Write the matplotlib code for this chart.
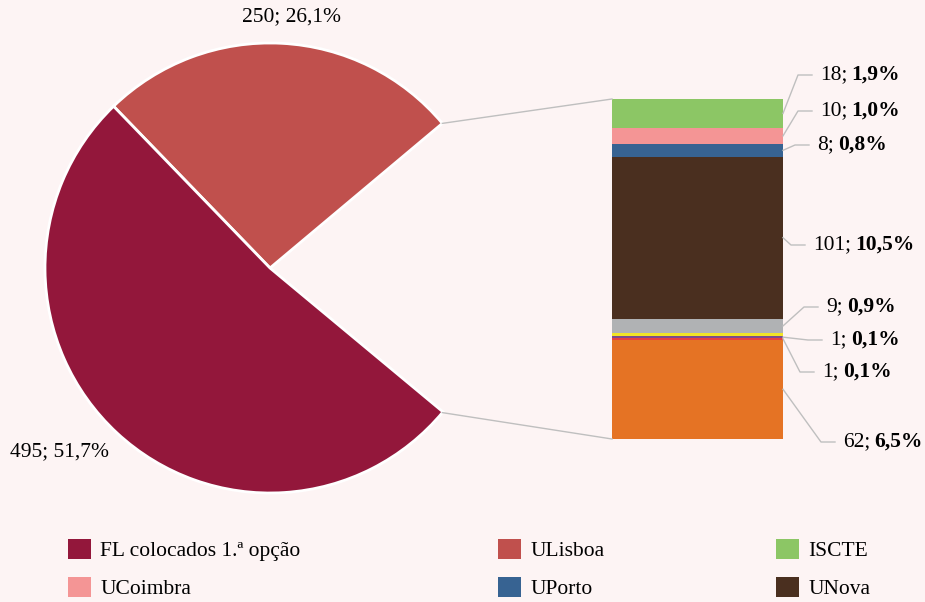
import numpy as np
import matplotlib
matplotlib.use("Agg")
import matplotlib.pyplot as plt
from matplotlib.patches import Patch
from matplotlib.legend import Legend
from matplotlib.font_manager import FontProperties

plt.rcParams['font.family'] = 'serif'
plt.rcParams['font.serif'] = ['Liberation Serif', 'DejaVu Serif']

# data
pie_labels = ['ULisboa', 'FL colocados 1.ª opção', 'Outras']
pie_values = [250, 495, 212]
pie_text = ['250; 26,1%', '495; 51,7%']

bar_names = ['UOrange', 'URed', 'UPurple', 'UYellow', 'UGrey', 'UNova', 'UPorto', 'UCoimbra', 'ISCTE']
bar_values = [62, 1, 1, 2, 9, 101, 8, 10, 18]
bar_val_txt = ['62;', '1;', '1;', None, '9;', '101;', '8;', '10;', '18;']
bar_pct_txt = ['6,5%', '0,1%', '0,1%', None, '0,9%', '10,5%', '0,8%', '1,0%', '1,9%']

BG = '#FDF4F4'
FS = 15.5
pie_colors = ['#C0504D', '#93173B', BG]
bar_colors = ['#E57324', '#E8403E', '#7C4D8A', '#F2E526', '#B0B2B4',
              '#4A2F1F', '#376392', '#F49595', '#8CC665']

W, H = 925, 602
def Y(y):
    return H - y

fig = plt.figure(figsize=(W / 100, H / 100), dpi=100, facecolor=BG)
ax = fig.add_axes([0, 0, 1, 1])
ax.set_facecolor(BG)

cx, cy, r = 270, Y(268), 225
wedges, _ = ax.pie(pie_values, colors=pie_colors, startangle=40, radius=r,
                   center=(cx, cy), frame=True,
                   wedgeprops=dict(edgecolor='white', linewidth=2))
wedges[2].set_visible(False)

ax.text(292, Y(17), pie_text[0], ha='center', va='center', fontsize=FS)
ax.text(60, Y(452), pie_text[1], ha='center', va='center', fontsize=FS)

# stacked bar
bx0, bx1 = 612, 783
btop, bbot = Y(99), Y(439)
scale = (btop - bbot) / pie_values[2]
cum = bbot
centers = []
for v, c in zip(bar_values, bar_colors):
    ax.bar((bx0 + bx1) / 2, v * scale, width=bx1 - bx0, bottom=cum, color=c,
           edgecolor='none')
    centers.append(cum + v * scale / 2)
    cum += v * scale

# connector lines pie -> bar
a = np.deg2rad(40)
ax.plot([cx + r * np.cos(a), bx0], [cy + r * np.sin(a), btop], color='#BFBFBF', lw=1)
ax.plot([cx + r * np.cos(a), bx0], [cy - r * np.sin(a), bbot], color='#BFBFBF', lw=1)

# label positions (text left x, y)
lab_pos = [(843, 442), (822, 372), (830, 340), None, (826, 307),
           (813, 245), (817, 145), (820, 111), (820, 75)]
for i, pos in enumerate(lab_pos):
    if pos is None:
        continue
    tx, ty = pos[0], Y(pos[1])
    sy = centers[i]
    ax.plot([bx1, tx - 22, tx - 8], [sy, ty, ty], color='#BFBFBF', lw=1)
    t1 = ax.text(tx, ty, bar_val_txt[i], ha='left', va='center', fontsize=FS)
    ax.annotate(bar_pct_txt[i], xy=(1, 0), xycoords=t1, xytext=(3, 0),
                textcoords='offset points', ha='left', va='bottom',
                fontsize=FS, fontweight='bold')

ax.set_xlim(0, W)
ax.set_ylim(0, H)
ax.set_aspect('equal')
ax.axis('off')

# legend (three columns)
leg_cols = [
    (['FL colocados 1.ª opção', 'UCoimbra'], ['#93173B', '#F49595'], 68),
    (['ULisboa', 'UPorto'], ['#C0504D', '#376392'], 498),
    (['ISCTE', 'UNova'], ['#8CC665', '#4A2F1F'], 776),
]
for labels, cols, lx in leg_cols:
    handles = [Patch(facecolor=c, edgecolor='none') for c in cols]
    prop = FontProperties(family='serif', size=FS, weight='normal')
    leg = Legend(ax, handles, labels, loc='upper left', bbox_to_anchor=(lx / W, 1 - 539 / H),
                 frameon=False, prop=prop, handlelength=1.05, handleheight=1.05,
                 handletextpad=0.45, labelspacing=0.72, borderpad=0, borderaxespad=0)
    ax.add_artist(leg)

fig.savefig('out.png', dpi=100, facecolor=BG)
